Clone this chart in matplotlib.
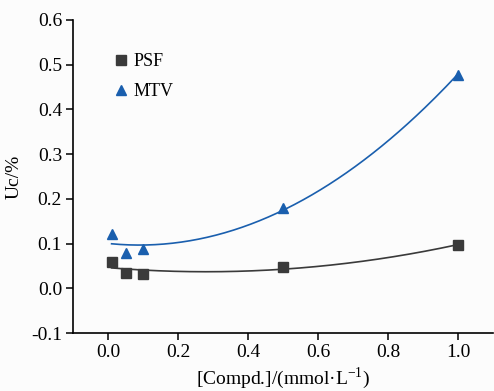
import numpy as np
import matplotlib.pyplot as plt

plt.rcParams['font.family'] = ['Liberation Serif', 'DejaVu Serif']
plt.rcParams['mathtext.fontset'] = 'custom'
plt.rcParams['mathtext.rm'] = 'Liberation Serif'

conc = [0.01, 0.05, 0.1, 0.5, 1.0]
psf = [0.060, 0.034, 0.033, 0.047, 0.097]
mtv = [0.121, 0.080, 0.089, 0.180, 0.478]

fig = plt.figure(figsize=(4.94, 3.91), dpi=100, facecolor='#fcfcfc')
ax = fig.add_axes([0.148, 0.148, 0.85, 0.801])
ax.set_facecolor('#fcfcfc')

xs = np.linspace(0.01, 1.0, 200)
for y, col, mk, lab in [(psf, '#3a3a3a', 's', 'PSF'), (mtv, '#1a5fae', '^', 'MTV')]:
    p = np.polyfit(conc, y, 2)
    ax.plot(xs, np.polyval(p, xs), color=col, lw=1.2)
    ax.plot(conc, y, mk, color=col, ms=7.5, ls='none', label=lab)

ax.set_xlim(-0.1, 1.1)
ax.set_ylim(-0.1, 0.6)
ax.set_xticks([0.0, 0.2, 0.4, 0.6, 0.8, 1.0])
ax.set_yticks([-0.1, 0.0, 0.1, 0.2, 0.3, 0.4, 0.5, 0.6])
ax.xaxis.set_major_formatter(plt.FuncFormatter(lambda v, _: f'{v:.1f}'))
ax.yaxis.set_major_formatter(plt.FuncFormatter(lambda v, _: f'{v:.1f}'))
for s in ['top', 'right']:
    ax.spines[s].set_visible(False)
ax.spines['left'].set_linewidth(1.2)
ax.spines['bottom'].set_linewidth(1.2)
ax.tick_params(labelsize=14, direction='out', length=5, width=1.1, pad=3)
ax.set_xlabel('[Compd.]/(mmol·L$^{-1}$)', fontsize=14, labelpad=3)
ax.set_ylabel('Uc/%', fontsize=14, labelpad=6)
ax.legend(loc='upper left', bbox_to_anchor=(0.05, 0.945), frameon=False, fontsize=13,
          handletextpad=0.1, labelspacing=0.7, handlelength=1.2)

fig.savefig('out.png', dpi=100, facecolor=fig.get_facecolor())
